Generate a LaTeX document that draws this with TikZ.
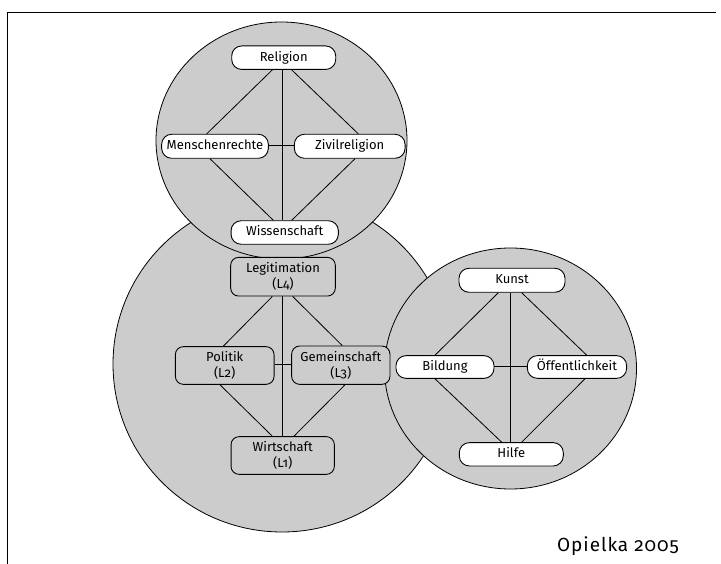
\documentclass[tikz,border=0pt]{standalone}
\usepackage{fontspec}
\setmainfont{Fira Sans}[Numbers=OldStyle]
\definecolor{bg}{RGB}{204,204,204}
\begin{document}
\begin{tikzpicture}[x=1pt,y=-1pt,
 lbl/.style={font=\fontsize{13}{16}\selectfont},
 wbox/.style={lbl, draw, fill=white, rounded corners=10pt, inner sep=0pt, line width=0.9pt, text height=9.5pt, text depth=2.5pt, minimum height=23.5pt},
 gbox/.style={lbl, draw, fill=bg, rounded corners=8pt, inner sep=0pt, line width=0.9pt, align=center, minimum height=38pt},
 circ/.style={draw, fill=bg, line width=0.8pt},
 link/.style={line width=0.8pt}]
\useasboundingbox (0,0) rectangle (721,564);
\draw[line width=1.3pt] (7.3,564) -- (7.3,12.3) -- (716,12.3);
% circles
\path[circ] (282,364) ellipse [x radius=169pt, y radius=168pt];
\path[circ] (281.5,140.5) ellipse [x radius=125.5pt, y radius=118.5pt];
\path[circ] (510.5,368.5) ellipse [x radius=126pt, y radius=120.5pt];
% nodes
\node[wbox, minimum width=104pt] (rel) at (283.7,57.7) {Religion};
\node[wbox, minimum width=106.7pt, minimum height=24pt] (men) at (215,146.3) {Menschenrechte};
\node[wbox, minimum width=110.7pt, minimum height=24pt] (ziv) at (349.7,146.3) {Zivilreligion};
\node[wbox, minimum width=107.3pt] (wis) at (284.7,232.5) {Wissenschaft};
\node[gbox, minimum width=104.7pt, minimum height=38.7pt] (leg) at (283,276.7) {Legitimation\\(L4)};
\node[gbox, minimum width=98.7pt, minimum height=37.7pt] (pol) at (224.7,365.5) {Politik\\(L2)};
\node[gbox, minimum width=98.3pt, minimum height=38.3pt] (gem) at (340.8,365.2) {Gemeinschaft\\(L3)};
\node[gbox, minimum width=103.3pt, minimum height=37.7pt] (wir) at (282.7,455.5) {Wirtschaft\\(L1)};
\node[wbox, minimum width=106pt, minimum height=24pt] (kun) at (512,280.3) {Kunst};
\node[wbox, minimum width=98pt, minimum height=22.7pt] (bil) at (445,367) {Bildung};
\node[wbox, minimum width=99.3pt, minimum height=22.7pt] (oef) at (577,367) {Öffentlichkeit};
\node[wbox, minimum width=104pt, minimum height=23.3pt] (hil) at (511.3,454.3) {Hilfe};
% connectors top
\draw[link] ([xshift=-11.4pt]rel.south) -- ([xshift=-8.3pt]men.north);
\draw[link] ([xshift=-1pt]rel.south) -- ([xshift=-1pt]rel.south |- wis.north);
\draw[link] ([xshift=8pt]rel.south) -- ([xshift=8.6pt]ziv.north);
\draw[link] ([xshift=-5pt]men.south) -- ([xshift=-11.4pt]wis.north);
\draw[link] ([xshift=5.3pt]ziv.south) -- ([xshift=7pt]wis.north);
\draw[link] ([yshift=1pt]men.east) -- ([yshift=1pt]ziv.west);
% connectors middle
\draw[link] ([xshift=-10.7pt]leg.south) -- ([xshift=-1.4pt]pol.north);
\draw[link] ([xshift=-0.7pt]leg.south) -- ([xshift=-0.7pt]leg.south |- wir.north);
\draw[link] ([xshift=9.7pt]leg.south) -- ([xshift=1.5pt]gem.north);
\draw[link] ([xshift=-4.7pt]pol.south) -- ([xshift=-10.4pt]wir.north);
\draw[link] ([xshift=4.2pt]gem.south) -- ([xshift=11.3pt]wir.north);
\draw[link] ([yshift=1pt]pol.east) -- ([yshift=1pt]pol.east -| gem.west);
% connectors right
\draw[link] ([xshift=-13.7pt]kun.south) -- ([xshift=-10pt]bil.north);
\draw[link] ([xshift=-2pt]kun.south) -- ([xshift=-2pt]kun.south |- hil.north);
\draw[link] ([xshift=9.7pt]kun.south) -- ([xshift=9.7pt]oef.north);
\draw[link] ([xshift=-10pt]bil.south) -- ([xshift=-9.6pt]hil.north);
\draw[link] ([xshift=8pt]oef.south) -- ([xshift=10.4pt]hil.north);
\draw[link] ([yshift=1pt]bil.east) -- ([yshift=1pt]oef.west);
% source
\node[font=\fontsize{19}{22}\selectfont\addfontfeature{LetterSpace=5}, anchor=base, inner sep=0pt] (src) at (618,551.5) {Opielka 2005};
\end{tikzpicture}
\end{document}
